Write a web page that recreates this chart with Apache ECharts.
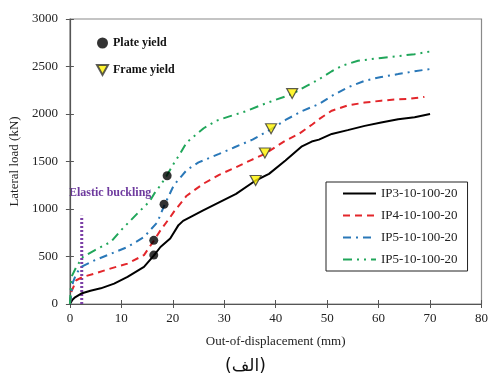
<!DOCTYPE html>
<html>
<head>
<meta charset="utf-8">
<script src="https://cdn.jsdelivr.net/npm/echarts@6/dist/echarts.min.js"></script>
<style>
  html, body { margin: 0; padding: 0; background: #fff; }
  #chart { width: 491px; height: 385px; }
</style>
</head>
<body>
<div id="chart"></div>
<script>
// Lateral load vs out-of-plane displacement for four infill-plate frames
const ip3X = [0, 0.5, 1, 2.2, 4, 6, 8.6, 11.2, 14.4, 16.3, 17.6, 19.5, 21.1, 22, 23.4, 25.9, 29, 32.3, 36.1, 38.7, 41.9, 45.1, 47, 48.4, 50.9, 54, 57.3, 60.5, 63.8, 67, 70];
const ip3Y = [0, 45, 70, 110, 140, 165, 215, 285, 390, 510, 600, 690, 830, 875, 915, 985, 1070, 1160, 1300, 1370, 1510, 1660, 1710, 1730, 1790, 1830, 1875, 1910, 1945, 1965, 2000];

const ip4X = [0, 0.3, 1.25, 2.5, 4.8, 8, 11.2, 14.4, 16.3, 17.6, 19.5, 20.2, 22.7, 25.9, 29, 32.3, 35, 37.9, 41.9, 44.5, 47.1, 48.4, 50.9, 54, 57.3, 60.5, 63.8, 66, 68.9];
const ip4Y = [0, 130, 250, 285, 320, 375, 425, 515, 665, 775, 915, 970, 1140, 1265, 1360, 1440, 1510, 1580, 1720, 1790, 1890, 1945, 2035, 2090, 2120, 2140, 2155, 2160, 2180];

const ip5aX = [0, 0.6, 1.25, 2.2, 4.8, 8, 11.2, 14.4, 17, 18.4, 20.2, 22.7, 25, 29, 32, 35.5, 39.1, 42, 45.1, 48.4, 50.9, 54, 57.3, 60.5, 63.8, 67, 70.2];
const ip5aY = [0, 230, 320, 390, 460, 530, 600, 705, 860, 1045, 1250, 1410, 1490, 1580, 1650, 1730, 1840, 1940, 2030, 2105, 2190, 2280, 2350, 2390, 2420, 2450, 2475];

const ip5bX = [0, 0.3, 1.25, 2.5, 4.8, 8, 10, 13.7, 15.5, 16.5, 17.6, 18.75, 20.2, 21.4, 22.7, 24, 26, 28.5, 31, 34.3, 37, 40, 43.2, 45.5, 48.4, 50.9, 53, 56, 60.5, 63.8, 67, 70.2];
const ip5bY = [0, 285, 390, 495, 565, 655, 780, 985, 1080, 1170, 1250, 1345, 1480, 1580, 1700, 1760, 1850, 1930, 1975, 2030, 2090, 2150, 2210, 2280, 2365, 2450, 2510, 2560, 2590, 2610, 2630, 2660];

// Yield points
const plateYieldX = [16.3, 16.3, 18.3, 18.9];
const plateYieldY = [515, 670, 1050, 1350];
const frameYieldX = [36.1, 37.9, 39.1, 43.2];
const frameYieldY = [1300, 1590, 1845, 2215];

// Elastic buckling marker
const bucklingX = [2.3, 2.3];
const bucklingY = [0, 930];

const xTicks = { min: 0, max: 80, interval: 10 };
const yTicks = { min: 0, max: 3000, interval: 500 };

const seriesNames = ['IP3-10-100-20', 'IP4-10-100-20', 'IP5-10-100-20', 'IP5-10-100-20 '];

const zip = (xs, ys) => xs.map((x, i) => [x, ys[i]]);

const serif = '"Liberation Serif", "Times New Roman", serif';
const chart = echarts.init(document.getElementById('chart'), null, { renderer: 'canvas' });

const curve = (name, xs, ys, color, type, width) => ({
  name, type: 'line', data: zip(xs, ys), symbol: 'none', smooth: false,
  xAxisIndex: 0, yAxisIndex: 0,
  lineStyle: { color, width, type }, itemStyle: { color }, z: 3
});

chart.setOption({
  animation: false,
  grid: { left: 68, right: 5, top: 19, bottom: 81, show: true, borderColor: '#8a8a8a', borderWidth: 1.2 },
  xAxis: [{
    type: 'value', ...xTicks, position: 'bottom',
    name: 'Out-of-displacement (mm)', nameLocation: 'middle', nameGap: 31,
    nameTextStyle: { fontFamily: serif, fontSize: 13, color: '#222' },
    axisLine: { lineStyle: { color: '#555', width: 1.2 } },
    axisTick: { show: true, inside: false, length: 4, lineStyle: { color: '#555' } },
    axisLabel: { fontFamily: serif, fontSize: 13, color: '#222', margin: 8 },
    splitLine: { show: false }
  }, {
    type: 'value', ...xTicks, position: 'bottom',
    axisLine: { show: false },
    axisTick: { show: true, inside: true, length: 4, lineStyle: { color: '#555' } },
    axisLabel: { show: false }, splitLine: { show: false }
  }],
  yAxis: [{
    type: 'value', ...yTicks, position: 'left',
    name: 'Lateral load (kN)', nameLocation: 'middle', nameGap: 41,
    nameTextStyle: { fontFamily: serif, fontSize: 13, color: '#222' },
    axisLine: { show: true, lineStyle: { color: '#555', width: 1.2 } },
    axisTick: { show: true, inside: false, length: 4, lineStyle: { color: '#555' } },
    axisLabel: { fontFamily: serif, fontSize: 13, color: '#222', margin: 12, formatter: v => String(v) },
    splitLine: { show: false }
  }, {
    type: 'value', ...yTicks, position: 'left',
    axisLine: { show: false },
    axisTick: { show: true, inside: true, length: 4, lineStyle: { color: '#555' } },
    axisLabel: { show: false }, splitLine: { show: false }
  }],
  legend: [{
    data: seriesNames,
    orient: 'vertical', left: 326, top: 182, width: 147,
    padding: [5, 10, 5, 16], itemGap: 9, itemWidth: 33, itemHeight: 14,
    borderColor: '#222', borderWidth: 1, backgroundColor: '#fff',
    itemStyle: { opacity: 0 },
    textStyle: { fontFamily: serif, fontSize: 13, color: '#222' },
    formatter: n => n.trim()
  }, {
    data: [
      { name: 'Plate yield', icon: 'circle', itemStyle: { color: '#000' } },
      { name: 'Frame yield', icon: 'path://M0,0 L10,0 L5,9 Z' }
    ],
    orient: 'vertical', left: 91, top: 32, itemGap: 15, itemWidth: 11, itemHeight: 11,
    textStyle: { fontFamily: serif, fontSize: 12, fontWeight: 'bold', color: '#111' }
  }],
  series: [
    curve(seriesNames[0], ip3X, ip3Y, '#000000', 'solid', 2),
    curve(seriesNames[1], ip4X, ip4Y, '#E3262B', [7, 5], 2),
    curve(seriesNames[2], ip5aX, ip5aY, '#2A78B8', [8, 5, 2, 5], 2),
    curve(seriesNames[3], ip5bX, ip5bY, '#20A65A', [9, 5, 2, 5, 2, 5], 2),
    {
      name: 'Elastic buckling', type: 'line', data: zip(bucklingX, bucklingY),
      symbol: 'none', lineStyle: { color: '#7B3FA6', width: 3, type: [2, 2] }, z: 2,
      silent: true
    },
    {
      name: 'Plate yield', type: 'scatter', data: zip(plateYieldX, plateYieldY),
      symbol: 'circle', symbolSize: 9, itemStyle: { color: '#000' }, z: 5
    },
    {
      name: 'Frame yield', type: 'scatter', data: zip(frameYieldX, frameYieldY),
      symbol: 'triangle', symbolRotate: 180, symbolSize: [11, 10],
      itemStyle: { color: '#FFF200', borderColor: '#333', borderWidth: 1.2 }, z: 5
    }
  ],
  graphic: [{
    type: 'text', left: 69, top: 187,
    style: { text: 'Elastic buckling', font: 'bold 12px ' + serif, fill: '#6E3A9E' }
  }, {
    type: 'text', left: 'center', top: 358,
    style: { text: '(الف)', font: '17px "DejaVu Sans", sans-serif', fill: '#111' }
  }]
});
</script>
</body>
</html>
